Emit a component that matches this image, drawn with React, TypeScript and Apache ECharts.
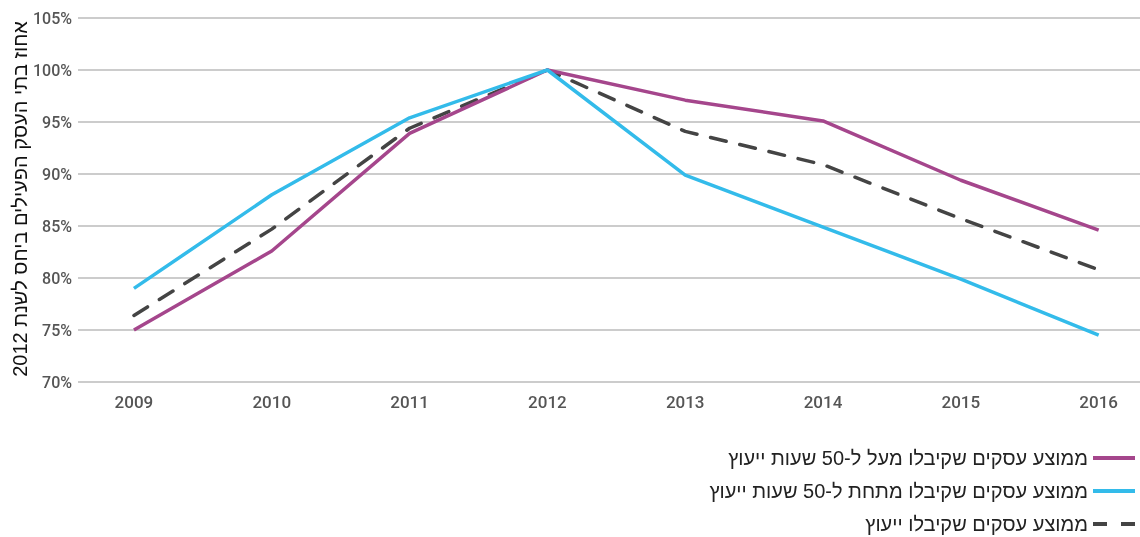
import React, { useEffect, useRef } from "react";
import * as echarts from "echarts";

const years = [2009, 2010, 2011, 2012, 2013, 2014, 2015, 2016];
const over50 = [75, 82.6, 93.9, 100, 97.1, 95.1, 89.4, 84.6];
const under50 = [79.0, 88.0, 95.4, 100, 89.9, 84.9, 79.9, 74.5];
const average = [76.4, 84.7, 94.4, 100, 94.1, 90.9, 85.7, 80.8];
const seriesNames = [
  "ממוצע עסקים שקיבלו מעל ל-50 שעות ייעוץ",
  "ממוצע עסקים שקיבלו מתחת ל-50 שעות ייעוץ",
  "ממוצע עסקים שקיבלו ייעוץ",
];
const yTitle = "אחוז בתי העסק הפעילים ביחס לשנת 2012";

const pairs = (vals: number[]) => years.map((y, i) => [y, vals[i]]);

const solidIcon = "path://M0,0h42v4h-42z";
const dashedIcon = "path://M0,0h14v4h-14zM28,0h14v4h-14z";

export default function App() {
  const ref = useRef<HTMLDivElement>(null);
  useEffect(() => {
    if (!ref.current) return;
    const chart = echarts.init(ref.current, null, { renderer: "svg" });
    const labelStyle = { color: "#555", fontWeight: 500, fontFamily: "Roboto" };
    chart.setOption({
      animation: false,
      grid: { left: 78, right: 0, top: 18, bottom: 155, outerBoundsMode: "none", containLabel: false },
      graphic: [
        {
          type: "text",
          x: 20,
          y: 199,
          rotation: Math.PI / 2,
          style: {
            text: yTitle,
            fontSize: 20,
            fill: "#111",
            fontFamily: "Liberation Sans, Arial",
            align: "center",
            verticalAlign: "middle",
          },
        },
      ],
      legend: {
        orient: "vertical",
        right: 0,
        top: 443,
        height: 110,
        align: "right",
        itemWidth: 42,
        itemHeight: 4,
        itemGap: 13,
        textStyle: { fontSize: 20, color: "#222", fontFamily: "Liberation Sans, Arial" },
        data: [
          { name: seriesNames[0], icon: solidIcon },
          { name: seriesNames[1], icon: solidIcon },
          { name: seriesNames[2], icon: dashedIcon },
        ],
      },
      xAxis: {
        type: "value",
        min: 2008.594,
        max: 2016.3,
        axisLine: { show: false },
        axisTick: { show: false },
        splitLine: { show: false },
        axisLabel: {
          ...labelStyle,
          fontSize: 17,
          margin: 11,
          customValues: years,
          formatter: (v: number) => String(v),
        },
      },
      yAxis: {
        type: "value",
        min: 70,
        max: 105,
        interval: 5,
        axisLine: { show: false },
        axisTick: { show: false },
        axisLabel: { ...labelStyle, fontSize: 16, margin: 6, formatter: (v: number) => v + "%" },
        splitLine: { lineStyle: { color: "#bbb", width: 1.5 } },
      },
      series: [
        {
          name: seriesNames[0],
          type: "line",
          data: pairs(over50),
          symbol: "none",
          lineStyle: { color: "#A5468C", width: 3.5 },
          itemStyle: { color: "#A5468C" },
          z: 3,
        },
        {
          name: seriesNames[1],
          type: "line",
          data: pairs(under50),
          symbol: "none",
          lineStyle: { color: "#33BBEA", width: 3.5 },
          itemStyle: { color: "#33BBEA" },
          z: 4,
        },
        {
          name: seriesNames[2],
          type: "line",
          data: pairs(average),
          symbol: "none",
          lineStyle: { color: "#444", width: 3.5, type: [16, 14], cap: "round" },
          itemStyle: { color: "#444" },
          z: 2,
        },
      ],
    });
    return () => chart.dispose();
  }, []);
  return (
    <div
      ref={ref}
      style={{ position: "fixed", left: 0, top: 0, width: 1140, height: 537 }}
    />
  );
}
